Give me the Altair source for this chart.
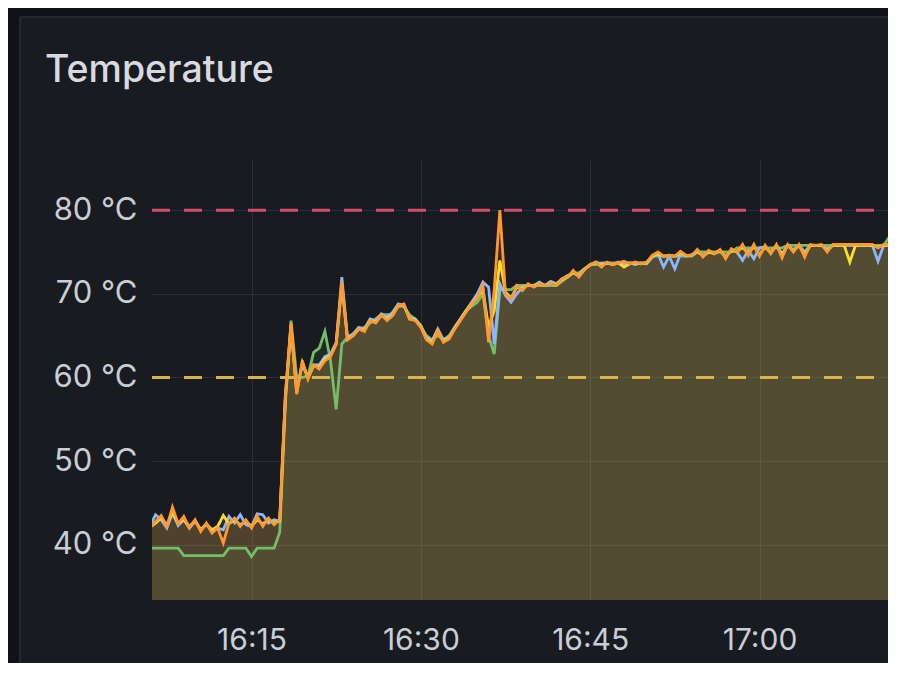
import altair as alt
import pandas as pd

# ---- data (30 s samples starting 16:06:00) ----
START = "2024-01-01 16:06:00"
orange = [
    42.0, 42.8, 43.5, 42.2, 44.5, 42.5, 43.4, 42.0, 43.0, 41.6,
    42.6, 41.4, 42.0, 40.2, 42.6, 43.2, 42.2, 43.0, 42.0, 43.4,
    42.2, 43.2, 42.4, 43.0, 58.0, 66.5, 58.0, 62.0, 59.8, 61.5,
    61.0, 62.0, 62.5, 64.0, 71.5, 64.5, 65.0, 65.8, 65.5, 66.8,
    66.5, 67.5, 66.8, 67.4, 68.6, 68.8, 67.0, 66.8, 66.0, 64.5,
    64.0, 65.6, 64.2, 64.6, 65.8, 66.8, 67.8, 68.8, 69.5, 71.0,
    64.2, 70.5, 80.0, 70.0, 69.4, 71.0, 70.4, 71.2, 70.8, 71.2,
    71.0, 71.3, 71.0, 71.8, 72.0, 72.8, 72.0, 72.9, 73.5, 73.8,
    73.2, 73.8, 73.5, 73.7, 73.9, 73.6, 73.8, 73.6, 73.8, 74.6,
    75.0, 74.5, 74.6, 74.5, 75.1, 74.6, 74.6, 75.3, 74.4, 75.2,
    74.8, 75.3, 74.2, 75.4, 75.0, 75.9, 74.6, 75.9, 74.5, 75.8,
    74.8, 75.9, 74.3, 75.9, 75.0, 75.9, 74.4, 75.9, 75.8, 75.9,
    75.0, 75.9, 75.9, 75.9, 75.9, 75.9, 75.9, 75.9, 75.9, 75.5,
    75.9, 75.9, 75.9,
]
green = [
    39.6, 39.6, 39.6, 39.6, 39.6, 39.6, 38.7, 38.7, 38.7, 38.7,
    38.7, 38.7, 38.7, 38.7, 39.6, 39.6, 39.6, 39.6, 38.6, 39.6,
    39.6, 39.6, 39.6, 41.5, 57.0, 66.8, 60.0, 60.0, 60.2, 63.0,
    63.5, 65.5, 62.0, 56.2, 64.0, 64.8, 65.2, 65.8, 66.0, 66.5,
    67.0, 67.5, 67.5, 67.5, 68.5, 68.5, 67.5, 67.0, 66.0, 65.0,
    64.5, 65.0, 64.5, 65.0, 66.0, 67.0, 68.0, 68.5, 69.0, 70.0,
    65.0, 62.8, 70.5, 70.5, 70.5, 71.0, 71.0, 71.0, 71.0, 71.0,
    71.0, 71.0, 71.0, 71.5, 72.0, 72.5, 72.5, 73.0, 73.5, 73.5,
    73.7, 73.7, 73.7, 73.7, 73.7, 73.7, 73.7, 73.7, 73.7, 74.5,
    74.5, 74.5, 74.5, 74.5, 74.5, 74.5, 74.5, 75.0, 75.0, 75.0,
    75.0, 75.0, 75.0, 75.0, 75.5, 75.5, 75.5, 75.5, 75.5, 75.5,
    75.5, 75.5, 75.5, 75.8, 75.8, 75.8, 75.8, 75.8, 75.8, 75.8,
    75.8, 75.8, 75.8, 75.8, 75.8, 75.8, 75.8, 75.8, 75.8, 75.8,
    75.8, 76.8, 75.8,
]
blue = [
    42.2, 43.6, 43.0, 42.0, 43.8, 42.3, 43.0, 42.0, 42.8, 41.8,
    42.4, 41.6, 42.0, 41.8, 43.4, 42.6, 43.6, 42.4, 42.2, 43.7,
    43.6, 42.6, 43.0, 42.8, 57.5, 66.0, 58.5, 61.5, 60.0, 61.5,
    61.5, 62.5, 62.8, 64.2, 72.0, 64.8, 65.2, 66.0, 65.8, 67.0,
    66.8, 67.6, 67.2, 67.8, 68.8, 68.6, 67.2, 67.0, 66.2, 64.8,
    64.4, 65.8, 64.5, 64.8, 66.0, 67.0, 68.0, 69.0, 70.0, 71.4,
    70.8, 64.0, 71.2, 69.8, 69.0, 70.0, 70.8, 71.0, 71.0, 71.4,
    71.0, 71.5, 71.2, 71.8, 72.2, 72.5, 72.2, 73.0, 73.4, 73.8,
    73.6, 73.7, 73.5, 73.8, 73.6, 73.7, 73.5, 73.7, 73.6, 74.4,
    74.8, 73.2, 74.5, 73.0, 74.8, 74.5, 74.7, 75.0, 74.6, 75.0,
    74.8, 75.2, 74.4, 75.2, 75.0, 74.0, 75.2, 74.2, 75.5, 75.6,
    75.0, 75.8, 74.8, 75.8, 75.3, 75.8, 75.0, 75.8, 75.8, 75.8,
    75.4, 75.8, 75.8, 75.8, 75.8, 75.8, 75.8, 75.8, 75.8, 73.9,
    75.8, 75.8, 75.8,
]
yellow = [
    42.1, 42.6, 43.2, 42.4, 43.9, 42.6, 43.0, 42.2, 42.9, 41.8,
    42.5, 41.8, 42.2, 43.5, 42.5, 43.0, 42.4, 42.8, 42.2, 43.0,
    42.5, 43.0, 42.6, 42.9, 57.8, 66.2, 58.2, 61.8, 60.0, 61.4,
    61.2, 62.2, 62.6, 64.0, 71.0, 64.6, 65.0, 65.8, 65.6, 66.8,
    66.6, 67.4, 67.0, 67.5, 68.6, 68.7, 67.0, 66.9, 66.1, 64.6,
    64.2, 65.6, 64.3, 64.7, 65.9, 66.9, 67.9, 68.8, 69.6, 70.5,
    66.0, 68.0, 74.0, 70.2, 69.5, 70.8, 70.6, 71.1, 70.9, 71.2,
    71.0, 71.3, 71.1, 71.7, 72.0, 72.6, 72.1, 72.9, 73.5, 73.7,
    73.4, 73.7, 73.5, 73.7, 73.2, 73.6, 73.7, 73.6, 73.7, 74.5,
    74.8, 74.5, 74.6, 74.5, 74.9, 74.6, 74.6, 75.1, 74.5, 75.0,
    74.8, 75.2, 74.4, 75.2, 75.0, 75.6, 74.8, 75.7, 74.7, 75.6,
    74.9, 75.8, 74.6, 75.8, 75.1, 75.8, 74.6, 75.8, 75.8, 75.8,
    75.2, 75.8, 75.8, 75.8, 73.8, 75.8, 75.8, 75.8, 75.8, 75.6,
    75.8, 75.8, 75.8,
]
thresholds = [80, 60]
threshold_colors = ["#d24f6c", "#d3b54c"]
y_ticks = [40, 50, 60, 70, 80]
x_tick_minutes = [(16, 15), (16, 30), (16, 45), (17, 0)]

series = [  # name, values, colour, fill opacity — drawn in this order (orange on top)
    ("green", green, "#73bf69", 0.10),
    ("blue", blue, "#8ab8ff", 0.07),
    ("yellow", yellow, "#fade2a", 0.08),
    ("orange", orange, "#ff9830", 0.14),
]

times = pd.date_range(START, periods=len(orange), freq="30s")
tstr = [t.strftime("%Y-%m-%dT%H:%M:%SZ") for t in times]


def dt(h, m, s=0):
    return alt.DateTime(year=2024, month=1, date=1, hours=h, minutes=m, seconds=s, utc=True)


FONT = "Inter"
LABEL = "#c9ced6"
GRID = "#2c2f35"
OUTER = "#111217"
PANEL = "#181b1f"
BORDER = "#2b2e35"

x_enc = alt.X(
    "t:T",
    scale=alt.Scale(type="utc", domain=[dt(16, 6, 11), dt(17, 11, 23)], nice=False),
    axis=alt.Axis(
        values=[dt(h, m) for h, m in x_tick_minutes],
        labelExpr="utcFormat(datum.value, '%H:%M')", title=None,
        domain=False, ticks=False, tickSize=0,
        labelFontSize=30, labelFont=FONT, labelColor=LABEL,
        labelPadding=40, labelBaseline="middle",
        gridColor=GRID, gridWidth=1, labelFlush=False,
    ),
)
y_enc = alt.Y(
    "v:Q",
    scale=alt.Scale(domain=[33.4, 86.0], zero=False, nice=False),
    axis=alt.Axis(
        values=y_ticks, labelExpr="datum.value + ' °C'", title=None,
        domain=False, ticks=False, tickSize=0,
        labelFontSize=31, labelFont=FONT, labelColor=LABEL,
        labelPadding=15, gridColor=GRID, gridWidth=1,
    ),
)

one = pd.DataFrame({"a": [0]})
outer_left = alt.Chart(one).mark_rect(fill=OUTER, clip=False).encode(
    x=alt.value(-150), x2=alt.value(-132), y=alt.value(-160), y2=alt.value(620))
outer_top = alt.Chart(one).mark_rect(fill=OUTER, clip=False).encode(
    x=alt.value(-150), x2=alt.value(760), y=alt.value(-160), y2=alt.value(-143))
border_left = alt.Chart(one).mark_rule(color=BORDER, strokeWidth=1.5, clip=False).encode(
    x=alt.value(-132), y=alt.value(-143), y2=alt.value(620))
border_top = alt.Chart(one).mark_rule(color=BORDER, strokeWidth=1.5, clip=False).encode(
    x=alt.value(-132), x2=alt.value(760), y=alt.value(-143))

title = alt.Chart(one).mark_text(
    text="Temperature", align="left", baseline="alphabetic",
    font=FONT, fontSize=37.5, fontWeight=500, color="#d8dae0",
).encode(x=alt.value(-107), y=alt.value(-78))

layers = [outer_left, outer_top, border_left, border_top, title]
frames = {}
for name, vals, col, op in series:
    frames[name] = pd.DataFrame({"t": tstr, "v": vals})

for name, vals, col, op in series:
    layers.append(
        alt.Chart(frames[name]).mark_area(color=col, fillOpacity=op, clip=True)
        .encode(x=x_enc, y=y_enc)
    )

for val, col in zip(thresholds, threshold_colors):
    layers.append(
        alt.Chart(one).mark_rule(color=col, strokeWidth=3, strokeDash=[18, 14])
        .encode(x=alt.value(0), x2=alt.value(740), y=alt.datum(val))
    )

for name, vals, col, op in series:
    layers.append(
        alt.Chart(frames[name]).mark_line(color=col, strokeWidth=2.8, clip=True)
        .encode(x=x_enc, y=y_enc)
    )

chart = (
    alt.layer(*layers)
    .properties(
        width=736, height=440,
        background=PANEL,
        padding={"left": 144, "top": 152, "right": 0, "bottom": 63},
        autosize=alt.AutoSizeParams(type="none"),
    )
    .configure_view(strokeWidth=0)
)

chart.save("out.html", embed_options={"renderer": "svg", "actions": False})
